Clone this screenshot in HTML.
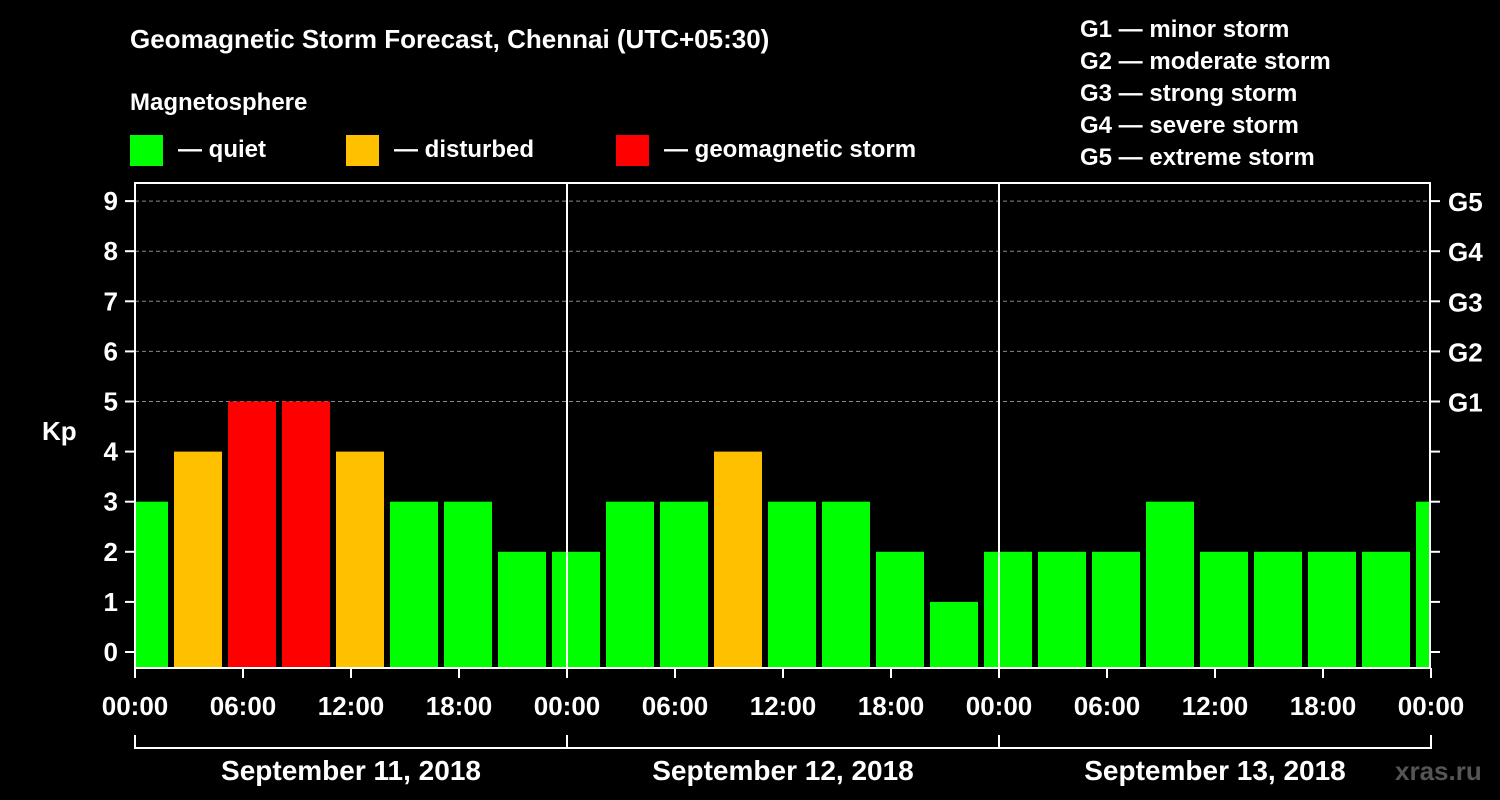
<!DOCTYPE html>
<html><head><meta charset="utf-8"><style>
body{margin:0;background:#000;width:1500px;height:800px;overflow:hidden}
svg{display:block;font-family:"Liberation Sans",Arial,sans-serif;font-weight:bold}
</style></head><body>
<svg id="c" width="1500" height="800">
<text x="130" y="48" fill="#fff" font-size="26">Geomagnetic Storm Forecast, Chennai (UTC+05:30)</text>
<text x="130" y="110" fill="#fff" font-size="24">Magnetosphere</text>
<rect x="130" y="135" width="33" height="31" fill="#00ff00"/>
<text x="178" y="157" fill="#fff" font-size="24">— quiet</text>
<rect x="346" y="135" width="33" height="31" fill="#ffc000"/>
<text x="394" y="157" fill="#fff" font-size="24">— disturbed</text>
<rect x="616" y="135" width="33" height="31" fill="#ff0000"/>
<text x="664" y="157" fill="#fff" font-size="24">— geomagnetic storm</text>
<g fill="#fff" font-size="24">
<text x="1080" y="37">G1 — minor storm</text>
<text x="1080" y="69">G2 — moderate storm</text>
<text x="1080" y="101">G3 — strong storm</text>
<text x="1080" y="133">G4 — severe storm</text>
<text x="1080" y="165">G5 — extreme storm</text>
</g>
<text x="42" y="440" fill="#fff" font-size="26">Kp</text>
<text x="1395" y="780" fill="#555" font-size="26">xras.ru</text>
<g id="g"></g>
</svg>
<script>
const kpValues=[3,4,5,5,4,3,3,2, 2,3,3,4,3,3,2,1, 2,2,2,3,2,2,2,2, 3];
const yTicks=[0,1,2,3,4,5,6,7,8,9];
const gLabels=["G1","G2","G3","G4","G5"];
const gLevels=[5,6,7,8,9];
const xTickLabels=["00:00","06:00","12:00","18:00","00:00","06:00","12:00","18:00","00:00","06:00","12:00","18:00","00:00"];
const dayLabels=["September 11, 2018","September 12, 2018","September 13, 2018"];
const L=135,R=1430,T=183,B=668;
const y=v=>652-v*50.1;
const x=h=>L+h*18; // hours -> px
const ns="http://www.w3.org/2000/svg",g=document.getElementById('g');
function mk(t,a){const e=document.createElementNS(ns,t);for(const k in a)e.setAttribute(k,a[k]);g.appendChild(e);return e;}
const clip=mk('clipPath',{id:'pc'});const cr=document.createElementNS(ns,'rect');
cr.setAttribute('x',L+1);cr.setAttribute('y',T);cr.setAttribute('width',R-L-1);cr.setAttribute('height',B-T);clip.appendChild(cr);
gLevels.forEach(v=>{const l=mk('line',{x1:L,x2:R,y1:y(v),y2:y(v),stroke:'#888','stroke-dasharray':'4,3','stroke-width':1});

});
kpValues.forEach((v,i)=>{const c=x(i*3+0.5);
const col=v>=5?'#ff0000':v>=4?'#ffc000':'#00ff00';
const r=mk('rect',{x:c-24,y:y(v),width:48,height:B-y(v),fill:col,'clip-path':'url(#pc)'});

});
[1,2].forEach(d=>{const l=mk('line',{x1:x(d*24),x2:x(d*24),y1:T,y2:B,stroke:'#fff','stroke-width':2});

});
const f=mk('rect',{x:L,y:T,width:R-L,height:B-T,fill:'none',stroke:'#fff','stroke-width':2});


yTicks.forEach(v=>{mk('line',{x1:L-10,x2:L,y1:y(v),y2:y(v),stroke:'#fff','stroke-width':2});
mk('line',{x1:R,x2:R+10,y1:y(v),y2:y(v),stroke:'#fff','stroke-width':2});
const t=mk('text',{x:L-17,y:y(v)+9,fill:'#fff','font-size':26,'text-anchor':'end'});t.textContent=v;

});
gLabels.forEach((s,i)=>{const t=mk('text',{x:1448,y:y(gLevels[i])+10,fill:'#fff','font-size':26});t.textContent=s;

});
xTickLabels.forEach((s,i)=>{const px=x(i*6);mk('line',{x1:px,x2:px,y1:B,y2:B+10,stroke:'#fff','stroke-width':2});
const t=mk('text',{x:px,y:715,fill:'#fff','font-size':26,'text-anchor':'middle'});t.textContent=s;

});
mk('line',{x1:L,x2:R,y1:748,y2:748,stroke:'#fff','stroke-width':2});
[0,1,2,3].forEach(d=>mk('line',{x1:x(d*24),x2:x(d*24),y1:735,y2:749,stroke:'#fff','stroke-width':2}));
dayLabels.forEach((s,i)=>{const t=mk('text',{x:x(i*24+12),y:780,fill:'#fff','font-size':28,'text-anchor':'middle'});t.textContent=s;

});
</script>
</body></html>
